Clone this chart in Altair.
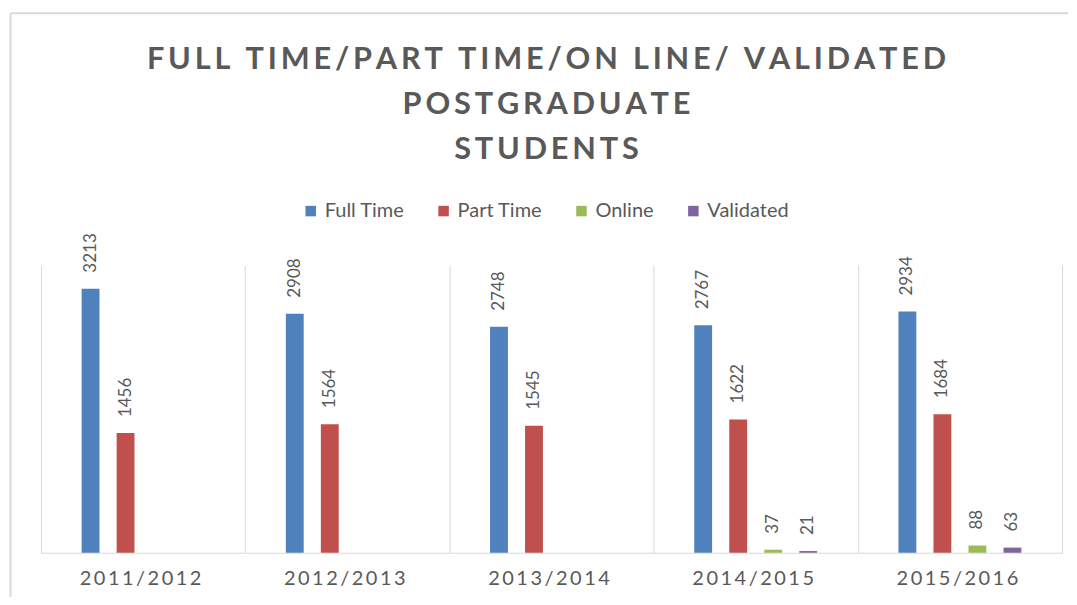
import altair as alt
import pandas as pd

years = ["2011/2012", "2012/2013", "2013/2014", "2014/2015", "2015/2016"]
series = ["Full Time", "Part Time", "Online", "Validated"]
full_time = [3213, 2908, 2748, 2767, 2934]
part_time = [1456, 1564, 1545, 1622, 1684]
online = [None, None, None, 37, 88]
validated = [None, None, None, 21, 63]
colors = ["#4F81BD", "#C0504D", "#9BBB59", "#8064A2"]
title_lines = ["FULL TIME/PART TIME/ON LINE/ VALIDATED", "POSTGRADUATE", "STUDENTS"]

rows = []
for name, vals in zip(series, [full_time, part_time, online, validated]):
    for y, v in zip(years, vals):
        if v is not None:
            rows.append({"year": y, "series": name, "value": v})
df = pd.DataFrame(rows)

grey = "#595959"
border = "#d9d9d9"
font = "Lato"
W, H = 1022, 288

x = alt.X("year:N", sort=years,
          scale=alt.Scale(paddingInner=0, paddingOuter=0),
          axis=alt.Axis(title=None, labelAngle=0, grid=True, tickBand="extent",
                        ticks=False, gridColor=border, domainColor=border,
                        labelFontSize=20, labelColor=grey, labelFont=font, labelPadding=16,
                        labelOffset=-3,
                        labelExpr="join(split(datum.label, ''), '\u2009')"))
xo = alt.XOffset("series:N", sort=series,
                 scale=alt.Scale(paddingInner=0.49, paddingOuter=0, range=[40.7, 163.7]))
y = alt.Y("value:Q", scale=alt.Scale(domain=[0, 3500]), axis=None)

base = alt.Chart(df).encode(x=x, xOffset=xo, y=y)

bars = base.mark_bar().encode(
    color=alt.Color("series:N", sort=series,
                    scale=alt.Scale(domain=series, range=colors),
                    legend=alt.Legend(title=None, orient="none", direction="horizontal",
                                      legendX=260, legendY=-64,
                                      symbolType="square", symbolSize=110,
                                      labelFontSize=20, labelColor=grey, labelFont=font,
                                      columnPadding=29))
)
labels = base.mark_text(angle=270, align="left", baseline="middle", dx=16,
                        fontSize=17, color=grey, font=font).encode(text="value:Q")

# outer chart frame (top and left edges)
frame_df = pd.DataFrame({"k": [0]})
frame_left = alt.Chart(frame_df).mark_rule(color=border, strokeWidth=2).encode(
    x=alt.value(-30.5), y=alt.value(-252), y2=alt.value(332))
frame_top = alt.Chart(frame_df).mark_rule(color=border, strokeWidth=2).encode(
    x=alt.value(-30.5), x2=alt.value(1028), y=alt.value(-252))

spaced_title = ["\u2009".join(list(t)) for t in title_lines]

chart = alt.layer(frame_left, frame_top, bars, labels).properties(
    width=W, height=H,
    title=alt.Title(text=spaced_title,
                    fontSize=30.7, font=font, fontWeight="bold", color=grey,
                    lineHeight=45.5, anchor="middle", offset=10, dy=164, dx=-5),
    padding={"left": 1, "top": 4, "right": 0, "bottom": 0},
).configure_view(stroke=None)

chart.save("out.html", embed_options={"renderer": "svg", "actions": False})
